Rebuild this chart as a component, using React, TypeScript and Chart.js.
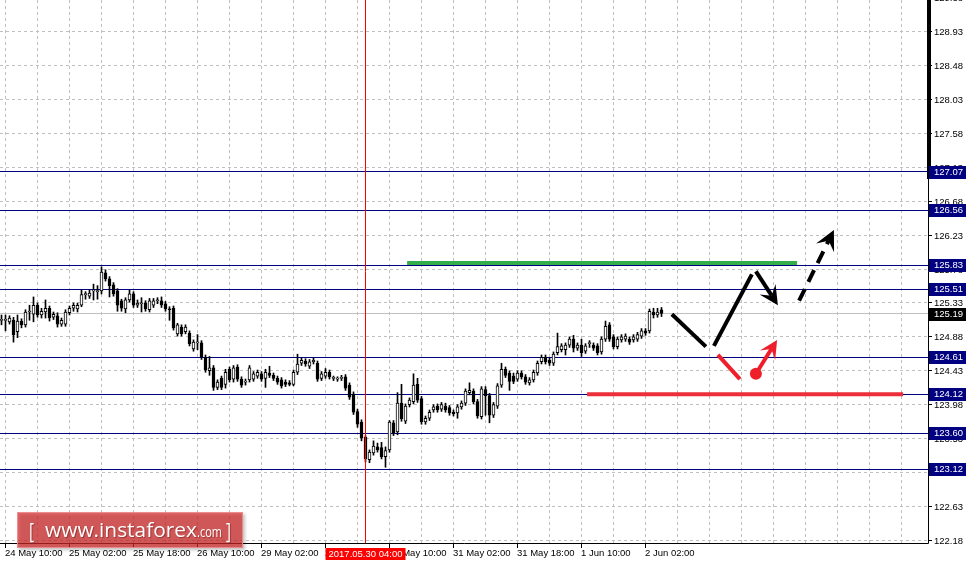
import React, { useEffect, useRef } from "react";
import { Chart, registerables } from "chart.js";

Chart.register(...registerables);

// ---- H1 candles (index 0 = 24 May 09:00) ----
const opens = [
  125.10, 125.10, 125.08, 125.10, 124.95, 125.09, 125.04, 125.21, 125.18, 125.30,
  125.17, 125.21, 125.26, 125.14, 125.16, 125.05, 125.05, 125.20, 125.26, 125.25,
  125.30, 125.44, 125.42, 125.49, 125.48, 125.49, 125.73, 125.65, 125.57, 125.49,
  125.36, 125.25, 125.37, 125.45, 125.30, 125.32, 125.33, 125.24, 125.30, 125.36,
  125.36, 125.32, 125.25, 125.26, 124.92, 125.01, 124.95, 124.93, 124.72, 124.80,
  124.80, 124.61, 124.43, 124.47, 124.21, 124.33, 124.25, 124.45, 124.32, 124.48,
  124.32, 124.28, 124.31, 124.32, 124.36, 124.39, 124.33, 124.40, 124.37, 124.33,
  124.31, 124.28, 124.27, 124.25, 124.41, 124.53, 124.56, 124.49, 124.55, 124.53,
  124.33, 124.36, 124.41, 124.33, 124.32, 124.33, 124.35, 124.24, 124.12, 123.89,
  123.75, 123.55, 123.25, 123.34, 123.42, 123.41, 123.29, 123.38, 123.74, 123.62,
  124.00, 123.76, 123.98, 124.02, 124.25, 124.06, 123.75, 123.80, 123.91, 123.96,
  123.92, 123.96, 123.94, 123.88, 123.87, 123.95, 124.00, 124.14, 124.16, 124.02,
  123.82, 124.18, 124.10, 123.84, 123.96, 124.24, 124.45, 124.40, 124.36, 124.32,
  124.40, 124.35, 124.27, 124.31, 124.40, 124.55, 124.61, 124.57, 124.53, 124.67,
  124.71, 124.71, 124.77, 124.85, 124.73, 124.77, 124.69, 124.79, 124.77, 124.76,
  124.68, 124.85, 125.04, 124.88, 124.75, 124.84, 124.85, 124.85, 124.84, 124.85,
  124.89, 124.96, 124.96, 125.21, 125.17, 125.24,
];
const highs = [
  125.17, 125.17, 125.16, 125.14, 125.17, 125.12, 125.24, 125.30, 125.41, 125.33,
  125.26, 125.37, 125.29, 125.21, 125.20, 125.13, 125.24, 125.29, 125.33, 125.33,
  125.50, 125.48, 125.50, 125.58, 125.56, 125.81, 125.77, 125.68, 125.60, 125.52,
  125.38, 125.40, 125.50, 125.48, 125.37, 125.40, 125.36, 125.39, 125.39, 125.40,
  125.41, 125.35, 125.28, 125.29, 125.06, 125.04, 125.04, 124.96, 124.84, 124.91,
  124.83, 124.64, 124.62, 124.50, 124.31, 124.36, 124.45, 124.48, 124.50, 124.51,
  124.35, 124.32, 124.50, 124.42, 124.44, 124.42, 124.45, 124.49, 124.40, 124.36,
  124.34, 124.31, 124.30, 124.44, 124.65, 124.60, 124.59, 124.58, 124.60, 124.56,
  124.42, 124.46, 124.44, 124.36, 124.35, 124.37, 124.38, 124.27, 124.15, 123.92,
  123.78, 123.57, 123.38, 123.50, 123.47, 123.48, 123.42, 123.77, 123.77, 124.14,
  124.25, 123.99, 124.07, 124.39, 124.33, 124.09, 123.83, 123.91, 123.98, 123.99,
  124.01, 124.00, 123.97, 123.91, 123.98, 124.03, 124.19, 124.27, 124.19, 124.05,
  124.22, 124.22, 124.13, 124.01, 124.26, 124.53, 124.48, 124.43, 124.40, 124.43,
  124.43, 124.38, 124.34, 124.44, 124.56, 124.64, 124.64, 124.60, 124.68, 124.93,
  124.79, 124.80, 124.88, 124.90, 124.80, 124.85, 124.79, 124.83, 124.80, 124.79,
  124.88, 125.09, 125.07, 124.91, 124.88, 124.91, 124.92, 124.88, 124.91, 124.94,
  124.99, 124.99, 125.25, 125.26, 125.26, 125.27,
];
const lows = [
  125.04, 124.96, 125.05, 124.81, 124.87, 125.00, 125.01, 125.10, 125.08, 125.14,
  125.13, 125.13, 125.09, 125.11, 125.01, 125.02, 125.02, 125.17, 125.22, 125.21,
  125.28, 125.38, 125.39, 125.37, 125.38, 125.45, 125.62, 125.41, 125.42, 125.22,
  125.22, 125.20, 125.34, 125.27, 125.27, 125.21, 125.22, 125.21, 125.27, 125.32,
  125.27, 125.22, 125.10, 124.97, 124.89, 124.89, 124.92, 124.76, 124.69, 124.71,
  124.58, 124.41, 124.37, 124.17, 124.18, 124.18, 124.20, 124.28, 124.28, 124.29,
  124.21, 124.24, 124.28, 124.29, 124.33, 124.29, 124.21, 124.34, 124.30, 124.25,
  124.20, 124.22, 124.23, 124.23, 124.38, 124.50, 124.49, 124.46, 124.52, 124.29,
  124.30, 124.33, 124.32, 124.30, 124.29, 124.30, 124.17, 124.05, 123.85, 123.68,
  123.50, 123.22, 123.21, 123.31, 123.35, 123.26, 123.15, 123.35, 123.57, 123.58,
  123.76, 123.73, 123.95, 123.99, 124.01, 123.72, 123.72, 123.77, 123.88, 123.88,
  123.89, 123.88, 123.84, 123.83, 123.80, 123.92, 123.97, 124.11, 123.99, 123.80,
  123.79, 123.84, 123.74, 123.81, 123.93, 124.21, 124.34, 124.17, 124.26, 124.29,
  124.32, 124.25, 124.24, 124.28, 124.37, 124.52, 124.52, 124.50, 124.50, 124.64,
  124.68, 124.64, 124.74, 124.68, 124.70, 124.62, 124.66, 124.74, 124.70, 124.64,
  124.65, 124.82, 124.82, 124.72, 124.72, 124.81, 124.82, 124.78, 124.81, 124.82,
  124.86, 124.90, 124.93, 125.13, 125.14, 125.15,
];
const closes = [
  125.10, 125.11, 125.13, 124.91, 125.09, 125.04, 125.21, 125.21, 125.30, 125.17,
  125.22, 125.26, 125.13, 125.18, 125.05, 125.10, 125.21, 125.26, 125.30, 125.30,
  125.44, 125.44, 125.46, 125.49, 125.49, 125.74, 125.65, 125.56, 125.45, 125.30,
  125.26, 125.37, 125.45, 125.30, 125.33, 125.32, 125.25, 125.36, 125.36, 125.36,
  125.30, 125.25, 125.24, 125.00, 125.04, 124.92, 125.01, 124.79, 124.81, 124.80,
  124.61, 124.44, 124.47, 124.21, 124.28, 124.21, 124.41, 124.31, 124.47, 124.32,
  124.24, 124.28, 124.47, 124.39, 124.41, 124.32, 124.41, 124.37, 124.33, 124.28,
  124.23, 124.25, 124.25, 124.41, 124.52, 124.57, 124.52, 124.55, 124.57, 124.32,
  124.39, 124.41, 124.35, 124.33, 124.32, 124.34, 124.20, 124.08, 123.88, 123.72,
  123.54, 123.26, 123.35, 123.43, 123.38, 123.29, 123.37, 123.75, 123.61, 124.00,
  123.79, 123.96, 124.04, 124.24, 124.04, 123.75, 123.80, 123.88, 123.95, 123.91,
  123.98, 123.91, 123.87, 123.86, 123.95, 124.00, 124.16, 124.17, 124.02, 123.83,
  124.19, 124.10, 123.84, 123.98, 124.23, 124.45, 124.37, 124.29, 124.29, 124.40,
  124.35, 124.28, 124.31, 124.41, 124.53, 124.61, 124.55, 124.53, 124.65, 124.75,
  124.76, 124.77, 124.85, 124.73, 124.77, 124.67, 124.76, 124.79, 124.73, 124.67,
  124.85, 125.02, 124.85, 124.75, 124.85, 124.88, 124.89, 124.81, 124.88, 124.91,
  124.96, 124.93, 125.22, 125.17, 125.21, 125.19,
];

// ---- axes ----
const yTickValues = [
  122.18, 122.63, 123.08, 123.53, 123.98, 124.43, 124.88, 125.33, 125.78,
  126.23, 126.68, 127.13, 127.58, 128.03, 128.48, 128.93, 129.38,
];
const xTickIndex = [1, 17, 33, 49, 65, 81, 97, 113, 129, 145, 161];
const xTickLabels = [
  "24 May 10:00", "25 May 02:00", "25 May 18:00", "26 May 10:00", "29 May 02:00",
  "29 May 18:00", "30 May 10:00", "31 May 02:00", "31 May 18:00", "1 Jun 10:00", "2 Jun 02:00",
];
const cursorIndex = 91;
const cursorLabel = "2017.05.30 04:00";

// ---- levels ----
const levels = [127.07, 126.56, 125.83, 125.51, 124.61, 124.12, 123.60, 123.12];
const levelLabels = ["127.07", "126.56", "125.83", "125.51", "124.61", "124.12", "123.60", "123.12"];
const bidPrice = 125.19;
const bidLabel = "125.19";

// ---- forecast drawing (candle index, price) ----
const greenZone = { from: 101.4, to: 198.9, price: 125.86 };
const redZone = { from: 146.4, to: 225.4, price: 124.12 };
const blackLeg1 = [[167.6, 125.18], [176.1, 124.75]];
const blackLeg2 = [[178.1, 124.76], [187.6, 125.71]];
const blackArrowDown = [[188.6, 125.75], [194.1, 125.30]];
const blackArrowUpDashed = [[199.4, 125.36], [208.1, 126.30]];
const redLeg = [[179.1, 124.64], [184.6, 124.32]];
const redArrowUp = [[188.6, 124.39], [193.9, 124.84]];

const FONT = "9.5px 'Liberation Sans', Arial, sans-serif";

function drawArrow(
  ctx: CanvasRenderingContext2D,
  x1: number, y1: number, x2: number, y2: number,
  color: string, lw: number, head: number, dash?: number[]
) {
  const ang = Math.atan2(y2 - y1, x2 - x1);
  const c = Math.cos(ang), s = Math.sin(ang);
  const notch = head * 0.6;
  ctx.strokeStyle = color;
  ctx.fillStyle = color;
  ctx.lineWidth = lw;
  ctx.setLineDash(dash || []);
  ctx.beginPath();
  ctx.moveTo(x1, y1);
  ctx.lineTo(x2 - c * notch, y2 - s * notch);
  ctx.stroke();
  ctx.setLineDash([]);
  const hw = head * 0.5;
  const bx = x2 - c * head, by = y2 - s * head;
  ctx.beginPath();
  ctx.moveTo(x2, y2);
  ctx.lineTo(bx - s * hw, by + c * hw);
  ctx.lineTo(x2 - c * notch, y2 - s * notch);
  ctx.lineTo(bx + s * hw, by - c * hw);
  ctx.closePath();
  ctx.fill();
}

export default function App() {
  const ref = useRef<HTMLCanvasElement>(null);

  useEffect(() => {
    document.body.style.margin = "0";
    const canvas = ref.current!;
    const up = closes.map((c, i) => c >= opens[i]);

    const gridPlugin = {
      id: "mtGrid",
      beforeDatasetsDraw(chart: any) {
        const ctx: CanvasRenderingContext2D = chart.ctx;
        const xs = chart.scales.x, ys = chart.scales.y;
        const area = chart.chartArea;
        const crisp = (p: number) => Math.floor(p) + 0.5;
        ctx.save();
        ctx.lineWidth = 1;
        ctx.strokeStyle = "#c0c0c0";
        ctx.setLineDash([3, 3]);
        for (let k = 1; xs.getPixelForValue(k) < area.right; k += 8) {
          const x = crisp(xs.getPixelForValue(k));
          ctx.beginPath();
          ctx.moveTo(x, 0);
          ctx.lineTo(x, 543);
          ctx.stroke();
        }
        for (const v of yTickValues) {
          const y = crisp(ys.getPixelForValue(v));
          if (y < 0 || y > 543) continue;
          ctx.beginPath();
          ctx.moveTo(0, y);
          ctx.lineTo(area.right, y);
          ctx.stroke();
        }
        ctx.setLineDash([]);
        ctx.strokeStyle = "#c0c0c0";
        let y = crisp(ys.getPixelForValue(bidPrice));
        ctx.beginPath();
        ctx.moveTo(0, y);
        ctx.lineTo(area.right, y);
        ctx.stroke();
        ctx.strokeStyle = "#000080";
        for (const v of levels) {
          y = crisp(ys.getPixelForValue(v));
          ctx.beginPath();
          ctx.moveTo(0, y);
          ctx.lineTo(area.right, y);
          ctx.stroke();
        }
        ctx.restore();
      },
    };

    const overlayPlugin = {
      id: "mtOverlay",
      afterDraw(chart: any) {
        const ctx: CanvasRenderingContext2D = chart.ctx;
        const xs = chart.scales.x, ys = chart.scales.y;
        const area = chart.chartArea;
        const X = (v: number) => xs.getPixelForValue(v);
        const Y = (v: number) => ys.getPixelForValue(v);
        const crisp = (p: number) => Math.floor(p) + 0.5;
        ctx.save();

        const cx = crisp(X(cursorIndex));
        ctx.strokeStyle = "#ff0000";
        ctx.lineWidth = 1;
        ctx.beginPath();
        ctx.moveTo(cx, 0);
        ctx.lineTo(cx, 543);
        ctx.stroke();

        ctx.lineCap = "butt";
        ctx.lineWidth = 4;
        ctx.strokeStyle = "#34ad4b";
        ctx.beginPath();
        ctx.moveTo(X(greenZone.from), Y(greenZone.price));
        ctx.lineTo(X(greenZone.to), Y(greenZone.price));
        ctx.stroke();
        ctx.strokeStyle = "#ec2f3a";
        ctx.beginPath();
        ctx.moveTo(X(redZone.from), Y(redZone.price));
        ctx.lineTo(X(redZone.to), Y(redZone.price));
        ctx.stroke();

        ctx.strokeStyle = "#000";
        ctx.lineWidth = 4;
        for (const seg of [blackLeg1, blackLeg2]) {
          ctx.beginPath();
          ctx.moveTo(X(seg[0][0]), Y(seg[0][1]));
          ctx.lineTo(X(seg[1][0]), Y(seg[1][1]));
          ctx.stroke();
        }
        drawArrow(ctx, X(blackArrowDown[0][0]), Y(blackArrowDown[0][1]),
          X(blackArrowDown[1][0]), Y(blackArrowDown[1][1]), "#000", 4, 19);
        drawArrow(ctx, X(blackArrowUpDashed[0][0]), Y(blackArrowUpDashed[0][1]),
          X(blackArrowUpDashed[1][0]), Y(blackArrowUpDashed[1][1]), "#000", 4, 20, [13, 8]);

        ctx.strokeStyle = "#ee1f2a";
        ctx.lineWidth = 4;
        ctx.beginPath();
        ctx.moveTo(X(redLeg[0][0]), Y(redLeg[0][1]));
        ctx.lineTo(X(redLeg[1][0]), Y(redLeg[1][1]));
        ctx.stroke();
        drawArrow(ctx, X(redArrowUp[0][0]), Y(redArrowUp[0][1]),
          X(redArrowUp[1][0]), Y(redArrowUp[1][1]), "#ee1f2a", 4, 18);
        ctx.fillStyle = "#ee1f2a";
        ctx.beginPath();
        ctx.arc(X(redArrowUp[0][0]), Y(redArrowUp[0][1]), 6, 0, Math.PI * 2);
        ctx.fill();

        ctx.fillStyle = "#fff";
        ctx.fillRect(area.right + 1, 0, 968 - area.right, 563);
        ctx.fillRect(0, 544, area.right + 1, 19);

        ctx.strokeStyle = "#000";
        ctx.lineWidth = 1;
        ctx.beginPath();
        ctx.moveTo(928.5, 0);
        ctx.lineTo(928.5, 543.5);
        ctx.lineTo(0, 543.5);
        ctx.stroke();
        ctx.fillStyle = "#000";
        ctx.fillRect(927, 0, 4, 179);

        ctx.font = FONT;
        ctx.textBaseline = "middle";
        ctx.textAlign = "left";
        for (const v of yTickValues) {
          const y = crisp(Y(v));
          ctx.beginPath();
          ctx.moveTo(928, y);
          ctx.lineTo(932, y);
          ctx.stroke();
          ctx.fillStyle = "#000";
          ctx.fillText(v.toFixed(2), 934, y + 0.5);
        }
        levels.forEach((v, i) => {
          const y = Math.round(Y(v));
          ctx.fillStyle = "#000080";
          ctx.fillRect(929, y - 6, 37, 13);
          ctx.fillStyle = "#fff";
          ctx.fillText(levelLabels[i], 934, y + 0.5);
        });
        {
          const y = Math.round(Y(bidPrice));
          ctx.fillStyle = "#000";
          ctx.fillRect(929, y - 6, 37, 13);
          ctx.fillStyle = "#fff";
          ctx.fillText(bidLabel, 934, y + 0.5);
        }

        xTickIndex.forEach((k, i) => {
          const x = crisp(X(k));
          ctx.strokeStyle = "#000";
          ctx.beginPath();
          ctx.moveTo(x, 543);
          ctx.lineTo(x, 548);
          ctx.stroke();
          ctx.fillStyle = "#000";
          ctx.fillText(xTickLabels[i], x - 0.5, 553.5);
        });
        ctx.fillStyle = "#ff0000";
        ctx.fillRect(cx - 40, 548, 80, 12);
        ctx.fillStyle = "#fff";
        ctx.textAlign = "center";
        ctx.fillText(cursorLabel, cx, 554);

        ctx.save();
        ctx.shadowColor = "rgba(0,0,0,0.35)";
        ctx.shadowBlur = 3;
        ctx.shadowOffsetX = 2;
        ctx.shadowOffsetY = 2;
        ctx.fillStyle = "rgba(212, 42, 42, 0.7)";
        ctx.fillRect(17, 512, 226, 36);
        ctx.restore();
        ctx.strokeStyle = "rgba(240,150,150,0.8)";
        ctx.strokeRect(17.5, 512.5, 225, 35);
        ctx.save();
        ctx.shadowColor = "rgba(90,0,0,0.45)";
        ctx.shadowBlur = 1;
        ctx.shadowOffsetX = 1;
        ctx.shadowOffsetY = 1;
        ctx.fillStyle = "#fff";
        ctx.textAlign = "left";
        ctx.textBaseline = "alphabetic";
        const fitText = (t: string, x: number, y: number, w: number, font: string) => {
          ctx.font = font;
          const m = ctx.measureText(t).width;
          ctx.save();
          ctx.translate(x, y);
          ctx.scale(w / m, 1);
          ctx.fillText(t, 0, 0);
          ctx.restore();
        };
        fitText("[", 29, 539, 5, "22px 'Open Sans', sans-serif");
        fitText("www.instaforex", 45, 537, 152, "20px 'Open Sans', sans-serif");
        fitText(".com", 197, 537, 25, "15px 'Open Sans', sans-serif");
        fitText("]", 226, 539, 5, "22px 'Open Sans', sans-serif");
        ctx.restore();

        ctx.restore();
      },
    };

    const chart = new Chart(canvas, {
      type: "bar",
      data: {
        datasets: [
          {
            label: "bodies",
            data: opens.map((o, i) => ({ x: i, y: [o, closes[i]] })) as any,
            backgroundColor: up.map((u) => (u ? "#ffffff" : "#000000")),
            borderColor: "#000000",
            borderWidth: 1,
            borderSkipped: false,
            barThickness: 3,
            minBarLength: 1,
            grouped: false,
            order: 0,
          } as any,
          {
            label: "wicks",
            data: lows.map((l, i) => ({ x: i, y: [l, highs[i]] })) as any,
            backgroundColor: "#000000",
            borderWidth: 0,
            barThickness: 1,
            grouped: false,
            order: 1,
          } as any,
        ],
      },
      options: {
        responsive: false,
        animation: false,
        devicePixelRatio: 1,
        layout: { padding: { left: 0, top: 0, right: 40, bottom: 19 } },
        plugins: { legend: { display: false }, tooltip: { enabled: false } },
        scales: {
          x: { type: "linear", min: -0.375, max: 231.625, offset: false, display: false },
          y: { type: "linear", min: 122.131, max: 129.351, display: false },
        },
      } as any,
      plugins: [gridPlugin, overlayPlugin],
    });
    return () => chart.destroy();
  }, []);

  return <canvas ref={ref} width={968} height={563} style={{ display: "block" }} />;
}
